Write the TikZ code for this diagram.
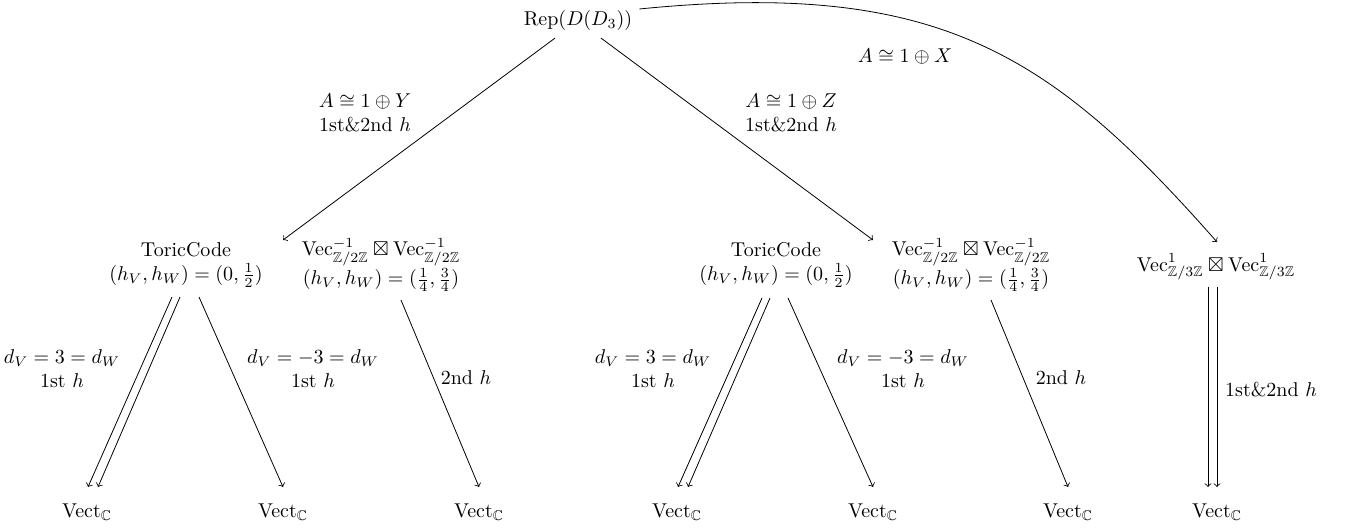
\documentclass[tikz,border=0pt]{standalone}
\usepackage{amsmath,amssymb}
\usetikzlibrary{calc}
\begin{document}
\begin{tikzpicture}[x=0.5pt,y=-0.5pt,
  obj/.style={align=center},
  lbl/.style={align=center},
  arr/.style={->}]
\useasboundingbox (0,0) rectangle (1347,529);
% objects
\node[obj] (rep) at (578,21) {$\mathrm{Rep}(D(D_3))$};
\node[obj] (tc1) at (186,265) {ToricCode\\$(h_V,h_W)=(0,\frac{1}{2})$};
\node[obj] (v1) at (381,265) {$\mathrm{Vec}^{-1}_{\mathbb{Z}/2\mathbb{Z}}\boxtimes\mathrm{Vec}^{-1}_{\mathbb{Z}/2\mathbb{Z}}$\\$(h_V,h_W)=(\frac{1}{4},\frac{3}{4})$};
\node[obj] (tc2) at (776,265) {ToricCode\\$(h_V,h_W)=(0,\frac{1}{2})$};
\node[obj] (v2) at (971,265) {$\mathrm{Vec}^{-1}_{\mathbb{Z}/2\mathbb{Z}}\boxtimes\mathrm{Vec}^{-1}_{\mathbb{Z}/2\mathbb{Z}}$\\$(h_V,h_W)=(\frac{1}{4},\frac{3}{4})$};
\node[obj] (v3) at (1216,267) {$\mathrm{Vec}^{1}_{\mathbb{Z}/3\mathbb{Z}}\boxtimes\mathrm{Vec}^{1}_{\mathbb{Z}/3\mathbb{Z}}$};
\node[obj] (vect1) at (87,512) {$\mathrm{Vect}_{\mathbb{C}}$};
\node[obj] (vect2) at (283,512) {$\mathrm{Vect}_{\mathbb{C}}$};
\node[obj] (vect3) at (479,512) {$\mathrm{Vect}_{\mathbb{C}}$};
\node[obj] (vect4) at (677,512) {$\mathrm{Vect}_{\mathbb{C}}$};
\node[obj] (vect5) at (873,512) {$\mathrm{Vect}_{\mathbb{C}}$};
\node[obj] (vect6) at (1068,512) {$\mathrm{Vect}_{\mathbb{C}}$};
\node[obj] (vect7) at (1217,512) {$\mathrm{Vect}_{\mathbb{C}}$};
% arrow ends
\coordinate (t1) at (283,240);
\coordinate (t2) at (873,240);
\coordinate (t3) at (1217,242);
% labels
\node[lbl] (lY) at (365,113) {$A\cong 1\oplus Y$\\1st\&2nd $h$};
\node[lbl] (lZ) at (791,113) {$A\cong 1\oplus Z$\\1st\&2nd $h$};
\node[lbl] (lX) at (905,57) {$A\cong 1\oplus X$};
\node[lbl] (d1) at (62,369) {$d_V=3=d_W$\\1st $h$};
\node[lbl] (d2) at (313,369) {$d_V=-3=d_W$\\1st $h$};
\node[lbl] (h1) at (466,378) {2nd $h$};
\node[lbl] (d3) at (653,369) {$d_V=3=d_W$\\1st $h$};
\node[lbl] (d4) at (903,369) {$d_V=-3=d_W$\\1st $h$};
\node[lbl] (h2) at (1061,378) {2nd $h$};
\node[lbl] (h3) at (1271,390) {1st\&2nd $h$};
% arrows
\draw[arr] (rep) -- (t1);
\draw[arr] (rep) -- (t2);
\draw[arr] ($(rep.east)+(0,-12)$) .. controls (940,-21) and (1052,55) .. (t3);
\draw[arr] ($(tc1)+(-14,32)$) -- ($(vect1)+(1,-25)$);
\draw[arr] ($(tc1)+(-6,32)$) -- ($(vect1)+(11,-25)$);
\draw[arr] ($(tc1)+(13,32)$) -- ($(vect2)+(0,-25)$);
\draw[arr] ($(v1)+(20,35)$) -- ($(vect3)+(0,-25)$);
\draw[arr] ($(tc2)+(-14,33)$) -- ($(vect4)+(1,-25)$);
\draw[arr] ($(tc2)+(-6,33)$) -- ($(vect4)+(11,-25)$);
\draw[arr] ($(tc2)+(12,33)$) -- ($(vect5)+(0,-25)$);
\draw[arr] ($(v2)+(20,35)$) -- ($(vect6)+(0,-25)$);
\draw[arr] ($(v3)+(-8,20)$) -- ($(vect7)+(-9,-25)$);
\draw[arr] ($(v3)+(1,20)$) -- ($(vect7)+(0,-25)$);
\end{tikzpicture}
\end{document}
